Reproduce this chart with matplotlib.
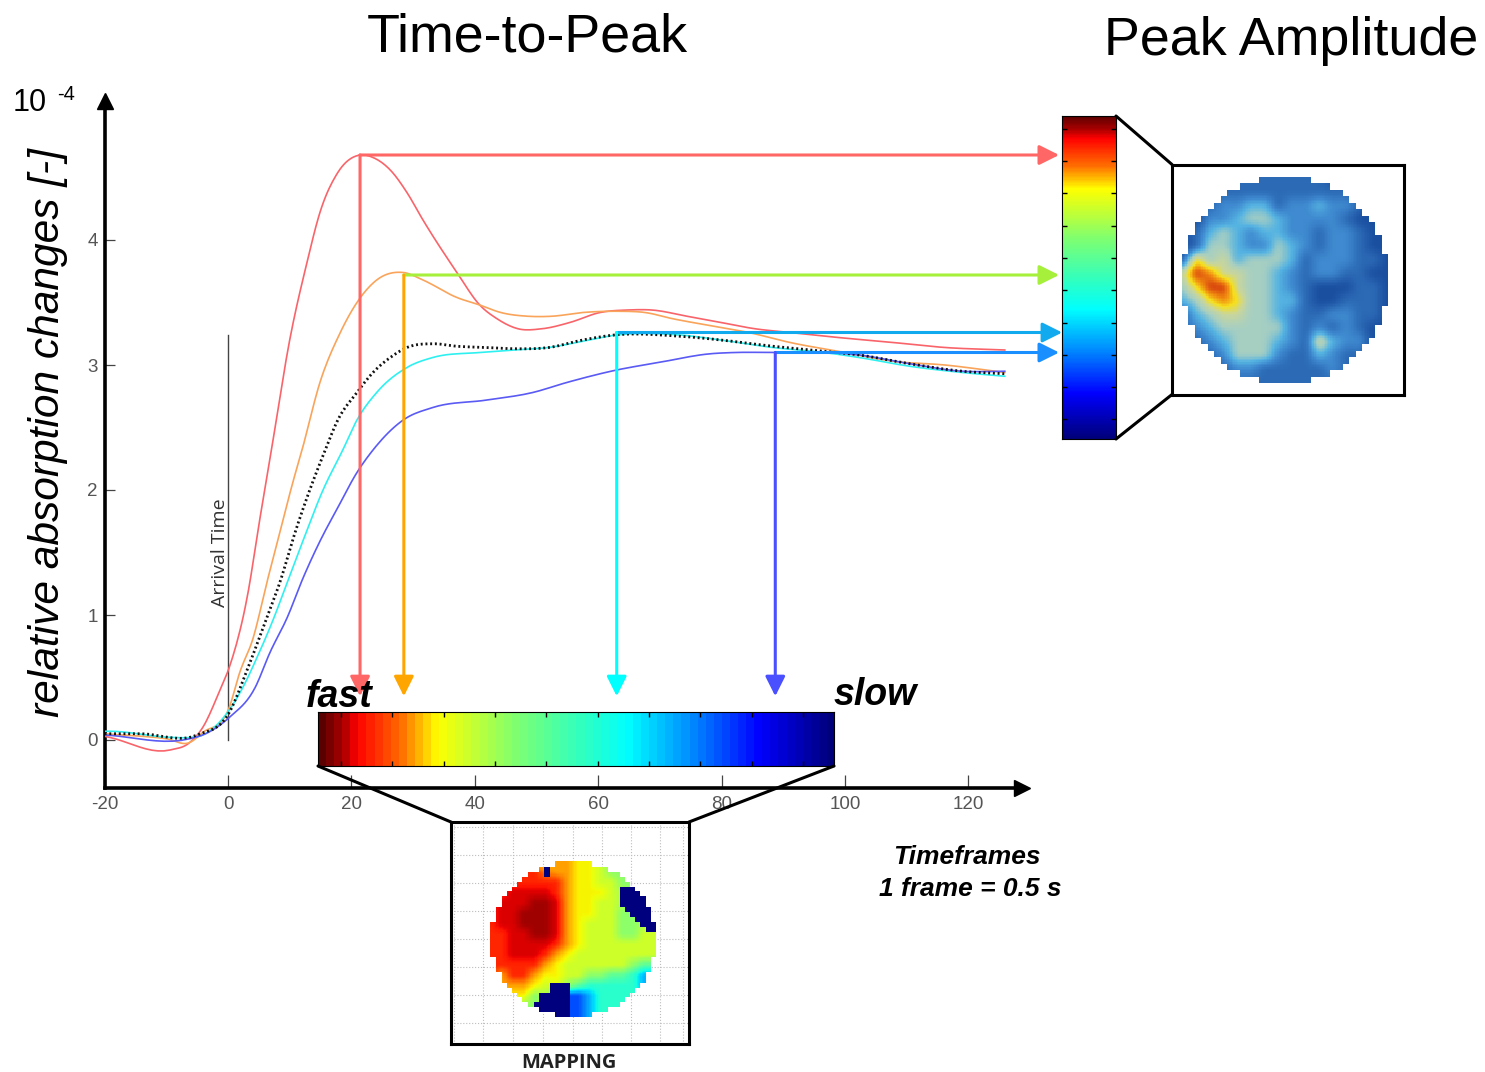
import numpy as np
import matplotlib
matplotlib.use("Agg")
import matplotlib.pyplot as plt
from matplotlib.colors import LinearSegmentedColormap
from matplotlib.patches import ConnectionPatch

W, H = 1485, 1072

# ---- curve data (frames, 1e-4 units) ----
red_x = [-20,-19.1,-9.4,-6.2,-4.1,-1.3,0.2,3.1,5.2,7.1,10.0,12.8,14.9,17.8,21.4,23.5,26.3,29.0,31.6,37.1,40.8,43.6,47.0,50.9,55.4,60.3,64.8,68.7,74.4,79.9,85.4,91.1,98.9,107.8,116.2,125.9]
red_y = [0.03,0.02,-0.08,-0.02,0.10,0.40,0.58,1.14,1.78,2.34,3.20,3.82,4.22,4.54,4.68,4.66,4.56,4.38,4.16,3.74,3.48,3.37,3.29,3.29,3.34,3.42,3.44,3.44,3.39,3.34,3.29,3.26,3.22,3.18,3.14,3.12]
orange_x = [-20,-10,-6.2,-4.1,0.2,1.9,4.1,6.3,8.4,10.5,12,14.9,18.2,20.9,24.1,28.4,31.6,37.1,40.8,44.2,48.6,52.5,57.5,63.2,67.6,72.1,78.8,84.4,91.1,100,107.8,116.2,125.9]
orange_y = [0.05,0.01,-0.02,0.06,0.26,0.54,0.82,1.26,1.66,2.06,2.32,2.86,3.26,3.50,3.68,3.74,3.68,3.54,3.48,3.42,3.39,3.39,3.42,3.43,3.42,3.37,3.31,3.26,3.18,3.10,3.03,3.0,2.94]
cyan_x = [-20,-19.1,-8.9,-6.2,-4.1,0.2,2.4,4.7,7.3,9.6,12.2,15.4,18.6,20.9,24.1,29,33.2,40.8,46.4,52,57.5,63,73.3,79.9,88.3,96.6,102.3,110.5,119,125.9]
cyan_y = [0.07,0.07,0.02,0.02,0.04,0.24,0.42,0.66,0.96,1.26,1.60,2.0,2.32,2.56,2.78,2.98,3.06,3.10,3.12,3.14,3.19,3.24,3.24,3.20,3.14,3.10,3.06,2.99,2.94,2.91]
blue_x = [-20,-6.2,-4.1,0.2,4.4,6.8,9.6,12.2,15.0,17.8,20.9,23.5,28.4,33.2,42,49.4,54.9,63,69.8,78.2,82.1,88.7,96.6,102.3,110.5,119,125.9]
blue_y = [0.04,0.01,0.04,0.18,0.42,0.70,0.98,1.30,1.60,1.86,2.14,2.32,2.56,2.66,2.72,2.78,2.86,2.96,3.02,3.09,3.10,3.10,3.10,3.08,3.01,2.95,2.95]
mean_x = [-20,-14.1,-5,0.2,3.1,5.7,8.4,11.0,13.1,15.6,17.8,20.9,23.5,26.3,29,33.2,37.1,41.9,46.4,52,57.5,62.6,73.3,79.9,88.3,96.6,102.3,110.5,119,125.9]
mean_y = [0.05,0.05,0.04,0.22,0.56,0.90,1.26,1.68,1.98,2.30,2.56,2.78,2.94,3.06,3.14,3.17,3.15,3.14,3.13,3.14,3.20,3.24,3.23,3.20,3.15,3.11,3.08,3.01,2.95,2.93]

# ---- peak read-outs ----
peak_t = [21.4, 28.5, 63.0, 88.7]
peak_a = [4.68, 3.72, 3.26, 3.10]
down_cols = ["#ff6666", "#ffa500", "#00ffff", "#4a50ff"]
side_cols = ["#ff6666", "#a6f03c", "#12aaee", "#1a8fff"]
side_end = [134.7, 134.7, 135.2, 134.7]
down_end = [0.35, 0.35, 0.35, 0.35]
arrival_top = 3.24

x_ticks = [-20, 0, 20, 40, 60, 80, 100, 120]
y_ticks = [0, 1, 2, 3, 4]

# ---- colour bars ----
bar_stops = [0.0, 0.045, 0.07, 0.157, 0.227, 0.38, 0.51, 0.60, 0.72, 0.86, 1.0]
bar_colors = ["#5a0000", "#b00000", "#ff0000", "#ff7000", "#ffff00", "#80ff70",
              "#30ffc0", "#00ffff", "#0090ff", "#0000ff", "#00007a"]

# ---- maps: coarse readings of the two images ----
peak_rows = [
 "0000111111100000","0001111111111000","0012233122322100","0022344322221000",
 "0134323322122100","0144322432122100","1645344431222110","5875544321221100",
 "4688544321000110","3467644331001110","1345544321122110","1234444421212100",
 "0123444321532200","0012444211321100","0001221111121000","0000111111111000"]
peak_colors = ["#1a4f9f","#2c6ab6","#3f8ad0","#56b4e2","#a7cfc2","#c9d69c","#f6e01e","#f08a10","#d43a0e"]

map_rows = [
 "7777778877655555","9999908877655555","9999999877665555","99aaaa9877760055",
 "9aaabba877660005","9aabbba877665000","9aabbba876665500","99aabba876665566",
 "99aaaa9876666666","99aaa98766666666","9999987666666544","9899877665544322",
 "8888760043333322","7777500012333333","7775000012333333","7775000012333333"]
map_levels = {"0":0.0,"1":0.2,"2":0.3,"3":0.4,"4":0.46,"5":0.52,"6":0.6,"7":0.65,"8":0.74,"9":0.87,"a":0.92,"b":0.97}

plt.rcParams["font.family"] = ["Liberation Sans", "DejaVu Sans"]
plt.rcParams["axes.unicode_minus"] = False
fig = plt.figure(figsize=(W / 100, H / 100), dpi=100)


def rect(x0, y0, x1, y1, **kw):
    return fig.add_axes([x0 / W, 1 - y1 / H, (x1 - x0) / W, (y1 - y0) / H], **kw)


def ftext(x, y, s, **kw):
    kw.setdefault("ha", "center")
    kw.setdefault("va", "center")
    kw.setdefault("zorder", 20)
    return fig.text(x / W, 1 - (y + 2) / H, s, **kw)


def smooth(x, y, k=10):
    """Draw the read points as a soft trace, as the instrument's plot does."""
    x, y = np.asarray(x, float), np.asarray(y, float)
    h = np.diff(x)
    s = np.diff(y) / h
    m = np.zeros_like(y)
    m[0], m[-1] = s[0], s[-1]
    m[1:-1] = (s[:-1] * h[1:] + s[1:] * h[:-1]) / (h[:-1] + h[1:])
    xs, ys = [], []
    for i in range(len(h)):
        t = np.linspace(0, 1, k, endpoint=False)
        xs.append(x[i] + t * h[i])
        ys.append((2*t**3 - 3*t**2 + 1) * y[i] + (t**3 - 2*t**2 + t) * h[i] * m[i]
                  + (-2*t**3 + 3*t**2) * y[i+1] + (t**3 - t**2) * h[i] * m[i+1])
    return np.r_[np.concatenate(xs), x[-1]], np.r_[np.concatenate(ys), y[-1]]


def upsample(a, k):
    n, m = a.shape
    xi = np.linspace(0, m - 1, m * k)
    yi = np.linspace(0, n - 1, n * k)
    b = np.array([np.interp(xi, np.arange(m), r) for r in a])
    return np.array([np.interp(yi, np.arange(n), c) for c in b.T]).T


def blur(a, k):
    ker = np.ones(k) / k
    p = np.pad(a, k, mode="edge")
    p = np.apply_along_axis(lambda r: np.convolve(r, ker, mode="same"), 0, p)
    p = np.apply_along_axis(lambda r: np.convolve(r, ker, mode="same"), 1, p)
    return p[k:-k, k:-k]


def block(b, cells):
    """Coarsen a boolean image to a cells x cells staircase."""
    n = b.shape[0]
    idx = ((np.arange(cells) + 0.5) * n / cells).astype(int)
    c = b[np.ix_(idx, idx)]
    back = (np.arange(n) * cells / n).astype(int)
    return c[np.ix_(back, back)]


def disc_mask(n, cells):
    yy, xx = np.mgrid[0:cells, 0:cells]
    c = (cells - 1) / 2
    m = np.hypot(xx - c, yy - c) > cells / 2
    back = (np.arange(n) * cells / n).astype(int)
    return m[np.ix_(back, back)]


# ---- main axes ----
ax = rect(104.6, 101, 1022, 787.5)
ax.set_zorder(1)
ax.patch.set_alpha(0)
ax.set_xlim(-20, (1022 - 228) / 6.17)
ax.set_ylim((740 - 787.5) / 125, (740 - 101) / 125)
for s in ("top", "right"):
    ax.spines[s].set_visible(False)
for s in ("left", "bottom"):
    ax.spines[s].set_linewidth(2.6)
ax.plot(1, 0, ">k", ms=11, transform=ax.transAxes, clip_on=False, zorder=6)
ax.plot(0, 1, "^k", ms=11, transform=ax.transAxes, clip_on=False, zorder=6)
ax.set_xticks(x_ticks)
ax.set_yticks(y_ticks)
ax.tick_params(axis="x", direction="in", length=9.5, width=0.9, color="#444444",
               labelcolor="#555555", labelsize=13.5, pad=6)
ax.tick_params(axis="y", direction="in", length=7.5, width=0.9, color="#444444",
               labelcolor="#555555", labelsize=13.5, pad=5)

ax.plot(*smooth(red_x, red_y), color="#f8646a", lw=1.2, zorder=3)
ax.plot(*smooth(orange_x, orange_y), color="#f9a45a", lw=1.2, zorder=3)
ax.plot(*smooth(cyan_x, cyan_y), color="#2ff0f0", lw=1.2, zorder=3)
ax.plot(*smooth(blue_x, blue_y), color="#5a5af5", lw=1.2, zorder=3)
ax.plot(*smooth(mean_x, mean_y), color="#111111", lw=2.0, ls=(0, (0.7, 1.0)), zorder=3.5)

ax.plot([0, 0], [0, arrival_top], color="#444444", lw=1.0, zorder=2)
ax.text(-1.3, 1.5, "Arrival Time", rotation=90, ha="center", va="center",
        fontsize=14, color="#333333", family="Open Sans")

arrow = "-|>,head_length=1.0,head_width=0.5"
for t, a, dc, sc, se, de in zip(peak_t, peak_a, down_cols, side_cols, side_end, down_end):
    ax.annotate("", xy=(se, a), xytext=(t, a), annotation_clip=False, zorder=5,
                arrowprops=dict(arrowstyle=arrow, color=sc, lw=2.2, mutation_scale=12,
                                shrinkA=0, shrinkB=0))
    ax.annotate("", xy=(t, de), xytext=(t, a), annotation_clip=False, zorder=5,
                arrowprops=dict(arrowstyle=arrow, color=dc, lw=2.2, mutation_scale=12,
                                shrinkA=0, shrinkB=0))

# ---- horizontal colour bar ----
cm_bar = LinearSegmentedColormap.from_list("bar", list(zip(bar_stops, bar_colors)), N=64)
cm_barv = LinearSegmentedColormap.from_list("barv", list(zip(bar_stops, bar_colors)), N=256)
cbh = rect(318, 712, 834, 766)
cbh.set_zorder(4)
cbh.imshow(np.linspace(0, 1, 64)[None, :], cmap=cm_bar, aspect="auto", extent=(0, 1, 0, 1),
           interpolation="nearest")
cbh.set_xticks(0.0446 + 0.0995 * np.arange(10))
cbh.set_yticks([])
cbh.tick_params(axis="x", direction="in", length=3.5, width=1, top=True, bottom=True,
                labelbottom=False)

# ---- vertical colour bar ----
cbv = rect(1062, 116, 1116, 439)
cbv.set_zorder(4)
cbv.imshow(np.linspace(0, 1, 256)[:, None], cmap=cm_barv, aspect="auto", extent=(0, 1, 0, 1),
           interpolation="nearest")
cbv.set_yticks(0.0604 + 0.1 * np.arange(10))
cbv.set_xticks([])
cbv.tick_params(axis="y", direction="in", length=3.5, width=1, left=True, right=True,
                labelleft=False)

# ---- peak amplitude map ----
fp = rect(1172, 164.5, 1403.5, 394.5)
fp.set_zorder(4)
fp.set_xticks([])
fp.set_yticks([])
for s in fp.spines.values():
    s.set_linewidth(2.2)
pk = np.array([[int(c) for c in r] for r in peak_rows], float)
pk = blur(upsample(pk, 8), 5)
pk = np.ma.array(pk, mask=disc_mask(pk.shape[0], 32))
cm_pk = LinearSegmentedColormap.from_list("pk", peak_colors)
fp.imshow(pk, cmap=cm_pk, vmin=0, vmax=8, extent=(1182, 1388, 383, 177), aspect="auto",
          interpolation="nearest")
fp.set_xlim(1172, 1403.5)
fp.set_ylim(394.5, 164.5)

# ---- mapping map ----
fm = rect(451, 822, 689, 1044)
fm.set_zorder(4)
mp = np.array([[map_levels[c] for c in r] for r in map_rows])
navy = mp == 0
filled = mp.copy()
for _ in range(6):
    g = np.pad(filled, 1, mode="edge")
    w = np.pad((~navy).astype(float), 1, mode="edge")
    nb = (g[:-2, 1:-1] * w[:-2, 1:-1] + g[2:, 1:-1] * w[2:, 1:-1]
          + g[1:-1, :-2] * w[1:-1, :-2] + g[1:-1, 2:] * w[1:-1, 2:])
    cnt = w[:-2, 1:-1] + w[2:, 1:-1] + w[1:-1, :-2] + w[1:-1, 2:]
    fix = navy & (cnt > 0)
    filled[fix] = nb[fix] / cnt[fix]
    navy = navy & ~fix
smooth_map = blur(upsample(filled, 8), 3)
navy_mask = block(upsample((mp == 0).astype(float), 8) > 0.5, 31)
smooth_map[navy_mask] = 0.0
mp_img = np.ma.array(smooth_map, mask=disc_mask(smooth_map.shape[0], 31))
fm.imshow(mp_img, cmap="jet", vmin=0, vmax=1, extent=(490, 656, 1017, 861), aspect="auto",
          interpolation="nearest", zorder=3)
fm.set_xlim(451, 689)
fm.set_ylim(1044, 822)
fm.set_xticks([454, 483, 513, 543, 573, 602, 631, 660, 683])
fm.set_yticks([827, 855, 883, 911, 939, 967, 995, 1023])
fm.grid(True, color="#bdbdbd", lw=0.8, ls=":")
fm.set_axisbelow(True)
fm.tick_params(length=0, labelleft=False, labelbottom=False)
for s in fm.spines.values():
    s.set_linewidth(2.2)

# ---- zoom connectors ----
for axA, pA, axB, pB in [
    (cbh, (0, 0), fm, (0, 1)), (cbh, (1, 0), fm, (1, 1)),
    (cbv, (1, 1), fp, (0, 1)), (cbv, (1, 0), fp, (0, 0))]:
    con = ConnectionPatch(xyA=pA, coordsA=axA.transAxes, xyB=pB, coordsB=axB.transAxes,
                          color="black", lw=2.2, zorder=10)
    fig.add_artist(con)

# ---- text ----
ftext(527, 36, "Time-to-Peak", fontsize=38.8)
ftext(1291, 39, "Peak Amplitude", fontsize=38.8)
ftext(30, 101, "10", fontsize=22)
ftext(66, 93, "-4", fontsize=14.5)
ftext(48, 431, "relative absorption changes [-]", rotation=90, fontsize=30.6, style="italic")
ftext(339, 695, "fast", fontsize=27, weight="bold", style="italic")
ftext(875, 693, "slow", fontsize=27, weight="bold", style="italic")
ftext(967, 855, "Timeframes", fontsize=19, weight="bold", style="italic")
ftext(970, 887, "1 frame = 0.5 s", fontsize=19, weight="bold", style="italic")
ftext(569, 1061, "MAPPING", fontsize=14.5, weight="bold", family="Open Sans", color="#222222")

fig.savefig("out.png", dpi=100)
